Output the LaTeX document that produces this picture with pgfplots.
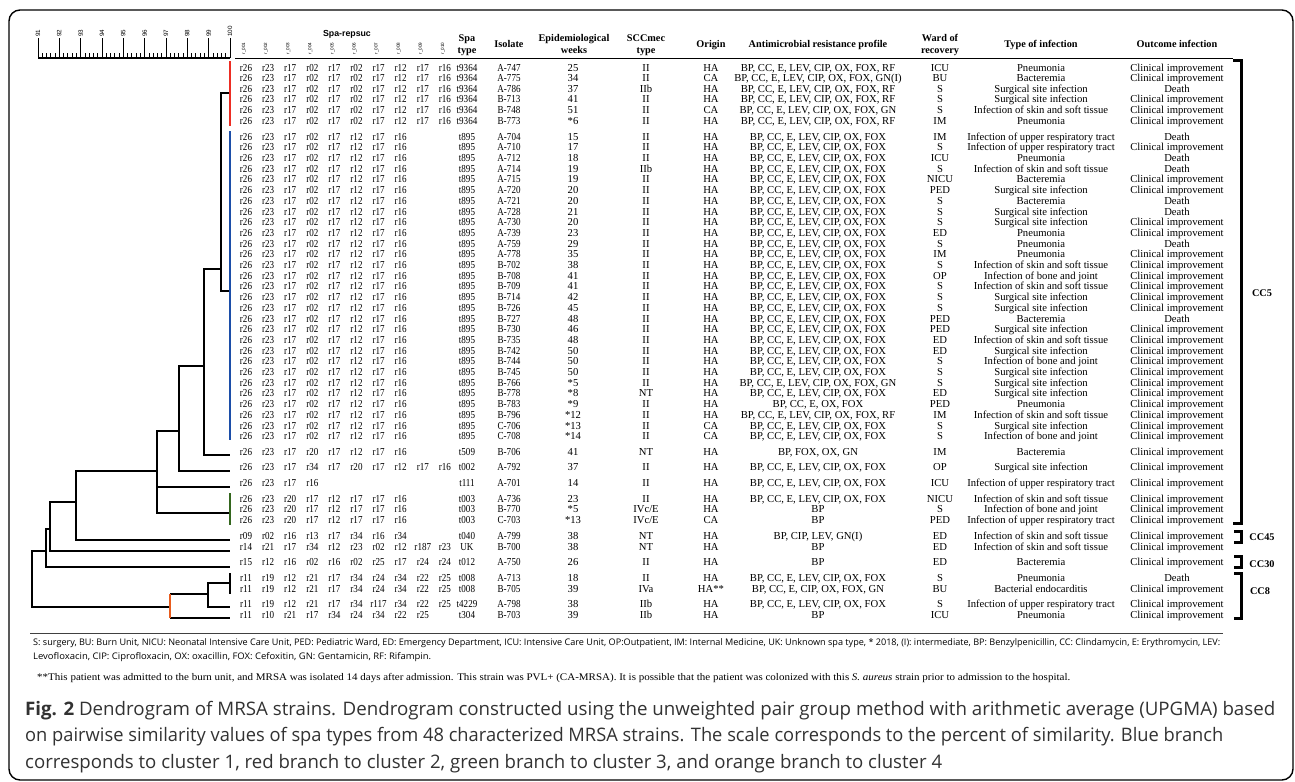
\documentclass[border=0pt]{standalone}
\usepackage{pgfplots}
\pgfplotsset{compat=1.18}
\usepackage{fontspec}
\usepackage{graphicx}
\setmainfont{Liberation Serif}
\setsansfont{Open Sans}
\newfontfamily\arialf{Liberation Sans}
\definecolor{cred}{RGB}{236,45,35}
\definecolor{cblue}{RGB}{28,78,168}
\definecolor{cgreen}{RGB}{52,102,30}
\definecolor{corange}{RGB}{232,92,30}
\definecolor{captxt}{RGB}{50,50,50}
\newcommand\rowfont{\fontsize{10.7}{10.7}\selectfont}
\newcommand\hdfont{\fontsize{10.3}{10.3}\selectfont\bfseries}
\newcommand\nar[1]{\scalebox{0.85}[1]{#1}}
\tikzset{cell/.style={anchor=base,inner sep=0pt,font=\rowfont},
  hd/.style={anchor=base,inner sep=0pt,font=\hdfont},
  sub/.style={rotate=90,anchor=center,inner sep=0pt,font=\arialf\fontsize{4.6}{4.6}\selectfont}}
\newsavebox\fnbox
\newsavebox\capbox
\newdimen\tmpd
% spa repeat successions
\def\cA{r26,r23,r17,r02,r17,r02,r17,r12,r17,r16}
\def\cB{r26,r23,r17,r02,r17,r12,r17,r16}
\def\cC{r26,r23,r17,r20,r17,r12,r17,r16}
\def\cD{r26,r23,r17,r34,r17,r20,r17,r12,r17,r16}
\def\cE{r26,r23,r17,r16}
\def\cF{r26,r23,r20,r17,r12,r17,r17,r16}
\def\cG{r09,r02,r16,r13,r17,r34,r16,r34}
\def\cH{r14,r21,r17,r34,r12,r23,r02,r12,r187,r23}
\def\cI{r15,r12,r16,r02,r16,r02,r25,r17,r24,r24}
\def\cJ{r11,r19,r12,r21,r17,r34,r24,r34,r22,r25}
\def\cK{r11,r19,r12,r21,r17,r34,r117,r34,r22,r25}
\def\cL{r11,r10,r21,r17,r34,r24,r34,r22,r25}
\def\aR{BP, CC, E, LEV, CIP, OX, FOX, RF}
\def\aF{BP, CC, E, LEV, CIP, OX, FOX}
\def\aG{BP, CC, E, LEV, CIP, OX, FOX, GN}
\def\CI{Clinical improvement}
\def\SSI{Surgical site infection}
\def\SST{Infection of skin and soft tissue}
\def\URT{Infection of upper respiratory tract}
\def\BJ{Infection of bone and joint}
\newcommand\RR[4]{\node[cell] at (940,#1) {#2};\node[cell] at (1041,#1) {#3};\node[cell] at (1177,#1) {#4};}
\newcommand\R[9]{%
  \foreach \c [count=\i from 0] in #2 {\node[cell] at ({246+22.1*\i},#1) {\nar{\c}};}
  \node[cell] at (467,#1) {\nar{#3}};
  \node[cell] at (509,#1) {\nar{#4}};
  \node[cell] at (573,#1) {#5};
  \node[cell] at (646,#1) {#6};
  \node[cell] at (711,#1) {#7};
  \node[cell] at (818,#1) {#8};
  \RR{#1}#9}
\begin{document}
\sbox\fnbox{\sffamily\fontsize{8.5}{8.5}\selectfont S: surgery, BU: Burn Unit, NICU: Neonatal Intensive Care Unit, PED: Pediatric Ward, ED: Emergency Department, ICU: Intensive Care Unit, OP:Outpatient, IM: Internal Medicine, UK: Unknown spa type, * 2018, (I): intermediate, BP: Benzylpenicillin, CC: Clindamycin, E: Erythromycin, LEV:}%
\tmpd=\wd\fnbox
\pgfmathsetmacro\fs{1191.5/\tmpd}%
\sbox\capbox{\color{captxt}\sffamily\fontsize{18}{18}\selectfont corresponds to cluster 1, red branch to cluster 2, green branch to cluster 3, and orange branch to cluster 4}%
\tmpd=\wd\capbox
\pgfmathsetmacro\cs{920.4/\tmpd}%
\begin{tikzpicture}
\path[use as bounding box] (0,0) rectangle (1295bp,-782bp);
% ruler
\begin{axis}[at={(38bp,-58bp)}, anchor=north west, scale only axis,
  width=192bp, height=4bp, xmin=91, xmax=100, ymin=0, ymax=1,
  axis x line=top, axis y line=none, axis line style={-, line width=2.5bp},
  xtick={91,...,100}, minor x tick num=4, tick align=outside,
  major tick length=20bp, minor tick length=5bp,
  every tick/.style={black, line width=0.8bp},
  xticklabel style={rotate=90, anchor=west, inner sep=0pt, font=\arialf\fontsize{6.3}{6.3}\selectfont},
  /pgf/number format/assume math mode=true, xticklabel shift=1bp]
\addplot[draw=none] coordinates {(91,0)(100,1)};
\end{axis}
% dendrogram
\begin{axis}[at={(38bp,-58bp)}, anchor=north west, scale only axis,
  width=192bp, height=724bp, xmin=91, xmax=100, ymin=58, ymax=782,
  y dir=reverse, axis lines=none, clip=false]
\pgfplotsset{dend/.style={black, line width=2bp, line join=miter}}
\addplot[dend] coordinates {(100,93)(99.578,93)(99.578,291)(100,291)};
\addplot[dend] coordinates {(99.578,269)(98.78,269)(98.78,455)(100,455)};
\addplot[dend] coordinates {(98.78,365.7)(97.61,365.7)(97.61,471)(100,471)};
\addplot[dend] coordinates {(97.61,430.7)(96.58,430.7)(96.58,512.7)(100,512.7)};
\addplot[dend] coordinates {(96.58,486.7)(100,486.7)};
\addplot[dend] coordinates {(96.58,470.7)(92.78,470.7)(92.78,539.5)(100,539.5)};
\addplot[dend] coordinates {(92.78,502.3)(91.56,502.3)(91.56,550.5)(100,550.5)};
\addplot[dend] coordinates {(91.56,529.3)(91.375,529.3)(91.375,567.3)(100,567.3)};
\addplot[dend] coordinates {(91.375,550.5)(90.72,550.5)(90.72,607)(97.19,607)};
\addplot[dend] coordinates {(97.19,594.3)(98.97,594.3)};
\addplot[dend] coordinates {(97.19,618.3)(100,618.3)};
\addplot[dend] coordinates {(100,582.7)(98.97,582.7)(98.97,607)(100,607)};
\addplot[dend] coordinates {(100,573)(100,594)};
\addplot[corange, line width=2.4bp] coordinates {(97.19,594.3)(97.19,618.3)};
\addplot[cred, line width=2.6bp] coordinates {(100,61)(100,126)};
\addplot[cblue, line width=2.6bp] coordinates {(100,131)(100,440)};
\addplot[cgreen, line width=2.6bp] coordinates {(100,493)(100,524.5)};
\end{axis}
\begin{scope}[x=1bp,y=-1bp]
\draw[line width=1.4bp, rounded corners=11bp] (9,10) rectangle (1293,780);
\draw[line width=1.6bp] (235,58.5) -- (1233,58.5);
\draw[line width=3bp] (1233,60.5) -- (1241.5,60.5) -- (1241.5,523) -- (1233,523);
\draw[line width=3bp] (1234,531) -- (1241.5,531) -- (1241.5,542) -- (1234,542);
\draw[line width=3bp] (1234,556) -- (1241.5,556) -- (1241.5,567) -- (1234,567);
\draw[line width=3bp] (1234,573) -- (1241.5,573) -- (1241.5,618) -- (1234,618);
\node[hd] at (1262,296) {CC5};
\node[hd] at (1262,540) {CC45};
\node[hd] at (1262,567) {CC30};
\node[hd] at (1260,594) {CC8};
% headers
\node[anchor=base,inner sep=0pt,font=\arialf\bfseries\fontsize{8.8}{8.8}\selectfont] at (347,36) {Spa-repsuc};
\foreach \i in {1,...,9} {\node[sub] at ({244+22.1*(\i-1)},48.5) {r\_00\i};}
\node[sub] at ({244+22.1*9},48.5) {r\_010};
\node[hd] at (467,41.5) {Spa};
\node[hd] at (467,53.5) {type};
\node[hd] at (509,47) {Isolate};
\node[hd] at (574,41.5) {Epidemiological};
\node[hd] at (574,53.5) {weeks};
\node[hd] at (646,41.5) {SCCmec};
\node[hd] at (646,53.5) {type};
\node[hd] at (711,47) {Origin};
\node[hd] at (818,47) {Antimicrobial resistance profile};
\node[hd] at (940,41.5) {Ward of};
\node[hd] at (940,53.5) {recovery};
\node[hd] at (1041,47) {Type of infection};
\node[hd] at (1177,47) {Outcome infection};
% rows
\R{71.1}{\cA}{t9364}{A-747}{25}{II}{HA}{\aR}{{ICU}{Pneumonia}{\CI}}
\R{81.7}{\cA}{t9364}{A-775}{34}{II}{CA}{BP, CC, E, LEV, CIP, OX, FOX, GN(I)}{{BU}{Bacteremia}{\CI}}
\R{92.3}{\cA}{t9364}{A-786}{37}{IIb}{HA}{\aR}{{S}{\SSI}{Death}}
\R{102.9}{\cA}{t9364}{B-713}{41}{II}{HA}{\aR}{{S}{\SSI}{\CI}}
\R{113.5}{\cA}{t9364}{B-748}{51}{II}{CA}{\aG}{{S}{\SST}{\CI}}
\R{124.1}{\cA}{t9364}{B-773}{*6}{II}{HA}{\aR}{{IM}{Pneumonia}{\CI}}
\R{140.1}{\cB}{t895}{A-704}{15}{II}{HA}{\aF}{{IM}{\URT}{Death}}
\R{150.8}{\cB}{t895}{A-710}{17}{II}{HA}{\aF}{{S}{\URT}{\CI}}
\R{161.5}{\cB}{t895}{A-712}{18}{II}{HA}{\aF}{{ICU}{Pneumonia}{Death}}
\R{172.2}{\cB}{t895}{A-714}{19}{IIb}{HA}{\aF}{{S}{\SST}{Death}}
\R{182.9}{\cB}{t895}{A-715}{19}{II}{HA}{\aF}{{NICU}{Bacteremia}{\CI}}
\R{193.6}{\cB}{t895}{A-720}{20}{II}{HA}{\aF}{{PED}{\SSI}{\CI}}
\R{204.3}{\cB}{t895}{A-721}{20}{II}{HA}{\aF}{{S}{Bacteremia}{Death}}
\R{215.0}{\cB}{t895}{A-728}{21}{II}{HA}{\aF}{{S}{\SSI}{Death}}
\R{225.7}{\cB}{t895}{A-730}{20}{II}{HA}{\aF}{{S}{\SSI}{\CI}}
\R{236.4}{\cB}{t895}{A-739}{23}{II}{HA}{\aF}{{ED}{Pneumonia}{\CI}}
\R{247.1}{\cB}{t895}{A-759}{29}{II}{HA}{\aF}{{S}{Pneumonia}{Death}}
\R{257.8}{\cB}{t895}{A-778}{35}{II}{HA}{\aF}{{IM}{Pneumonia}{\CI}}
\R{268.5}{\cB}{t895}{B-702}{38}{II}{HA}{\aF}{{S}{\SST}{\CI}}
\R{279.2}{\cB}{t895}{B-708}{41}{II}{HA}{\aF}{{OP}{\BJ}{\CI}}
\R{289.9}{\cB}{t895}{B-709}{41}{II}{HA}{\aF}{{S}{\SST}{\CI}}
\R{300.6}{\cB}{t895}{B-714}{42}{II}{HA}{\aF}{{S}{\SSI}{\CI}}
\R{311.3}{\cB}{t895}{B-726}{45}{II}{HA}{\aF}{{S}{\SSI}{\CI}}
\R{322.0}{\cB}{t895}{B-727}{48}{II}{HA}{\aF}{{PED}{Bacteremia}{Death}}
\R{332.7}{\cB}{t895}{B-730}{46}{II}{HA}{\aF}{{PED}{\SSI}{\CI}}
\R{343.4}{\cB}{t895}{B-735}{48}{II}{HA}{\aF}{{ED}{\SST}{\CI}}
\R{354.1}{\cB}{t895}{B-742}{50}{II}{HA}{\aF}{{ED}{\SSI}{\CI}}
\R{364.8}{\cB}{t895}{B-744}{50}{II}{HA}{\aF}{{S}{\BJ}{\CI}}
\R{375.5}{\cB}{t895}{B-745}{50}{II}{HA}{\aF}{{S}{\SSI}{\CI}}
\R{386.2}{\cB}{t895}{B-766}{*5}{II}{HA}{\aG}{{S}{\SSI}{\CI}}
\R{396.9}{\cB}{t895}{B-778}{*8}{NT}{HA}{\aF}{{ED}{\SSI}{\CI}}
\R{407.6}{\cB}{t895}{B-783}{*9}{II}{HA}{BP, CC, E, OX, FOX}{{PED}{Pneumonia}{\CI}}
\R{418.3}{\cB}{t895}{B-796}{*12}{II}{HA}{\aR}{{IM}{\SST}{\CI}}
\R{429.0}{\cB}{t895}{C-706}{*13}{II}{CA}{\aF}{{S}{\SSI}{\CI}}
\R{439.7}{\cB}{t895}{C-708}{*14}{II}{CA}{\aF}{{S}{\BJ}{\CI}}
\R{455.1}{\cC}{t509}{B-706}{41}{NT}{HA}{BP, FOX, OX, GN}{{IM}{Bacteremia}{\CI}}
\R{470.5}{\cD}{t002}{A-792}{37}{II}{HA}{\aF}{{OP}{\SSI}{\CI}}
\R{486.3}{\cE}{t111}{A-701}{14}{II}{HA}{\aF}{{ICU}{\URT}{\CI}}
\R{502.4}{\cF}{t003}{A-736}{23}{II}{HA}{\aF}{{NICU}{\SST}{\CI}}
\R{512.7}{\cF}{t003}{B-770}{*5}{IVc/E}{HA}{BP}{{S}{\BJ}{\CI}}
\R{523.4}{\cF}{t003}{C-703}{*13}{IVc/E}{CA}{BP}{{PED}{\URT}{\CI}}
\R{539.0}{\cG}{t040}{A-799}{38}{NT}{HA}{BP, CIP, LEV, GN(I)}{{ED}{\SST}{\CI}}
\R{550.0}{\cH}{UK}{B-700}{38}{NT}{HA}{BP}{{ED}{\SST}{\CI}}
\R{565.5}{\cI}{t012}{A-750}{26}{II}{HA}{BP}{{ED}{Bacteremia}{\CI}}
\R{581.7}{\cJ}{t008}{A-713}{18}{II}{HA}{\aF}{{S}{Pneumonia}{Death}}
\R{592.4}{\cJ}{t008}{B-705}{39}{IVa}{HA**}{BP, CC, E, CIP, OX, FOX, GN}{{BU}{Bacterial endocarditis}{\CI}}
\R{607.5}{\cK}{t4229}{A-798}{38}{IIb}{HA}{\aF}{{S}{\URT}{\CI}}
\R{618.3}{\cL}{t304}{B-703}{39}{IIb}{HA}{BP}{{ICU}{Pneumonia}{\CI}}
% footnotes
\draw[line width=0.9bp, black!75] (30,633) -- (1223,633);
\node[anchor=base west,inner sep=0pt] at (33,645) {\scalebox{\fs}{\usebox\fnbox}};
\node[anchor=base west,inner sep=0pt] at (33,659.5) {\resizebox{398bp}{\height}{\scalebox{\fs}{\sffamily\fontsize{8.5}{8.5}\selectfont Levofloxacin, CIP: Ciprofloxacin, OX: oxacillin, FOX: Cefoxitin, GN: Gentamicin, RF: Rifampin.}}};
\node[anchor=base west,inner sep=0pt] at (37,680.5) {\resizebox{1033bp}{\height}{\fontsize{10.2}{10.2}\selectfont **This patient was admitted to the burn unit, and MRSA was isolated 14 days after admission. This strain was PVL+ (CA-MRSA). It is possible that the patient was colonized with this \textit{S. aureus} strain prior to admission to the hospital.}};
% caption
\node[anchor=base west,inner sep=0pt,text=captxt] at (25,715) {\resizebox{1250bp}{\height}{\scalebox{\cs}{\sffamily\fontsize{18}{18}\selectfont \textbf{Fig. 2} Dendrogram of MRSA strains. Dendrogram constructed using the unweighted pair group method with arithmetic average (UPGMA) based}}};
\node[anchor=base west,inner sep=0pt,text=captxt] at (25,741.5) {\resizebox{1198bp}{\height}{\scalebox{\cs}{\sffamily\fontsize{18}{18}\selectfont on pairwise similarity values of spa types from 48 characterized MRSA strains. The scale corresponds to the percent of similarity. Blue branch}}};
\node[anchor=base west,inner sep=0pt,text=captxt] at (25,768) {\scalebox{\cs}{\usebox\capbox}};
\end{scope}
\end{tikzpicture}
\end{document}
